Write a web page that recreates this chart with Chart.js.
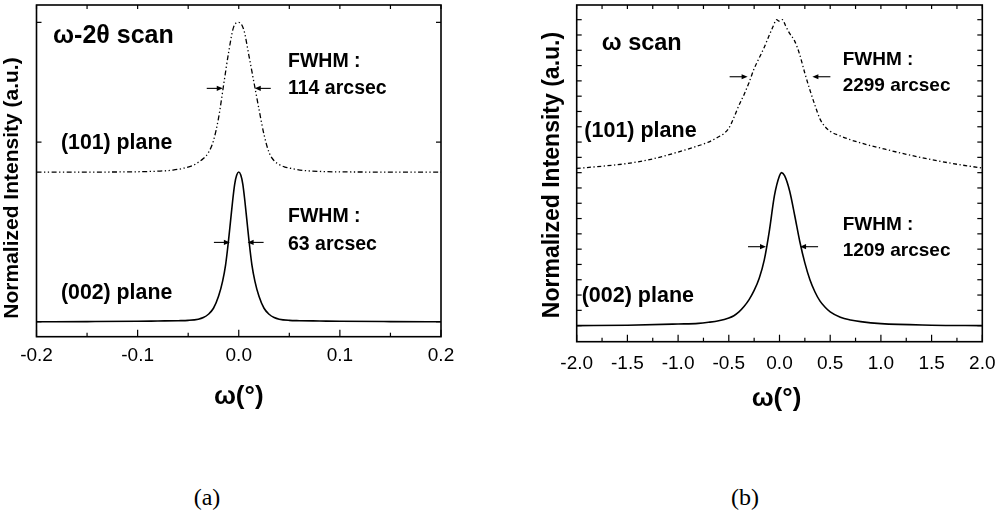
<!DOCTYPE html>
<html>
<head>
<meta charset="utf-8">
<title>XRD rocking curves</title>
<script src="https://cdn.jsdelivr.net/npm/chart.js@4.4.0/dist/chart.umd.min.js"></script>
<style>
  html, body { margin: 0; padding: 0; background: #fff; overflow: hidden; width: 996px; height: 513px; }
  #wrap { position: relative; width: 996px; height: 513px; }
  canvas { position: absolute; }
  .cap { position: absolute; font-family: 'Liberation Serif', 'Times New Roman', serif; font-size: 24px; line-height: 24px; color: #000; transform: translateX(-50%); white-space: nowrap; }
</style>
</head>
<body>
<div id="wrap">
  <canvas id="panelA" width="470" height="420" style="left:0;top:0;width:470px;height:420px"></canvas>
  <canvas id="panelB" width="520" height="420" style="left:498px;top:0;width:520px;height:420px"></canvas>
  <div class="cap" style="left:207px;top:485px">(a)</div>
  <div class="cap" style="left:745px;top:485px">(b)</div>
</div>
<script>
// ---- ω-2θ scan (panel a), ω in degrees, normalized intensity ----
const w2tX002 = [-0.2,-0.15,-0.1,-0.08,-0.06,-0.05,-0.04,-0.035,-0.03,-0.025,-0.02,-0.016,-0.013,-0.01,-0.008,-0.006,-0.004,-0.002,0,0.002,0.004,0.006,0.008,0.01,0.013,0.016,0.02,0.025,0.03,0.035,0.04,0.05,0.06,0.08,0.1,0.15,0.2];
const w2tI002 = [0,0.001,0.003,0.005,0.007,0.009,0.017,0.028,0.05,0.09,0.17,0.27,0.38,0.55,0.68,0.81,0.92,0.98,1.0,0.98,0.92,0.81,0.68,0.55,0.38,0.27,0.17,0.09,0.05,0.028,0.017,0.009,0.007,0.005,0.003,0.001,0];

const w2tX101 = [-0.2,-0.15,-0.1,-0.08,-0.065,-0.055,-0.045,-0.04,-0.035,-0.03,-0.025,-0.02,-0.015,-0.01,-0.005,0,0.005,0.01,0.015,0.02,0.025,0.03,0.035,0.04,0.045,0.055,0.065,0.08,0.1,0.15,0.2];
const w2tI101 = [0,0,0.002,0.006,0.013,0.025,0.045,0.065,0.09,0.13,0.21,0.36,0.58,0.80,0.97,1.0,0.95,0.78,0.60,0.42,0.25,0.13,0.075,0.05,0.035,0.02,0.01,0.004,0.001,0,0];

// ---- ω scan (panel b) ----
const wX002 = [-2.0,-1.5,-1.0,-0.8,-0.7,-0.6,-0.5,-0.45,-0.4,-0.35,-0.3,-0.25,-0.2,-0.15,-0.1,-0.05,0,0.02,0.05,0.1,0.15,0.2,0.25,0.3,0.35,0.4,0.45,0.5,0.6,0.7,0.8,1.0,1.5,2.0];
const wI002 = [0,0.003,0.011,0.015,0.022,0.032,0.05,0.065,0.09,0.125,0.17,0.23,0.31,0.43,0.62,0.85,0.98,1.0,0.98,0.88,0.72,0.55,0.41,0.30,0.22,0.16,0.12,0.09,0.055,0.037,0.026,0.013,0.003,0];

const wX101 = [-2.0,-1.75,-1.5,-1.25,-1.0,-0.85,-0.7,-0.6,-0.55,-0.5,-0.45,-0.4,-0.35,-0.3,-0.25,-0.2,-0.15,-0.1,-0.06,-0.03,0,0.03,0.06,0.1,0.15,0.2,0.25,0.3,0.35,0.4,0.45,0.5,0.6,0.7,0.85,1.0,1.25,1.5,1.75,2.0];
const wI101 = [0.028,0.042,0.06,0.09,0.135,0.165,0.2,0.235,0.255,0.29,0.36,0.44,0.51,0.59,0.68,0.75,0.82,0.9,0.96,1.0,0.99,1.0,0.96,0.91,0.86,0.77,0.65,0.54,0.44,0.35,0.3,0.27,0.24,0.215,0.185,0.16,0.12,0.085,0.055,0.03];

// FWHM values in arcsec: [(101), (002)]
const fwhmA = [114, 63];
const fwhmB = [2299, 1209];

// axis tick values
const xTicksA = [-0.2, -0.1, 0.0, 0.1, 0.2];
const xTicksB = [-2.0, -1.5, -1.0, -0.5, 0.0, 0.5, 1.0, 1.5, 2.0];
const yTicksA = [0, 1.2, 2.0];
const yTicksB = [0,0.1,0.2,0.3,0.4,0.5,0.6,0.7,0.8,0.9,1.0,1.1,1.2,1.3,1.4,1.5,1.6,1.7,1.8,1.9,2.0];

// the (101) curve is stacked one unit above the (002) curve
const STACK = 1;

const SANS = "'Liberation Sans', Arial, Helvetica, sans-serif";

function toPoints(xs, ys, offset) {
  return xs.map((x, i) => ({ x, y: ys[i] + offset }));
}

function arrow(ctx, tx, ty, dir, len) {
  ctx.beginPath();
  ctx.moveTo(tx - dir * len, ty);
  ctx.lineTo(tx - dir * 4, ty);
  ctx.stroke();
  ctx.beginPath();
  ctx.moveTo(tx, ty);
  ctx.lineTo(tx - dir * 6, ty - 2.6);
  ctx.lineTo(tx - dir * 6, ty + 2.6);
  ctx.closePath();
  ctx.fill();
}

// frame, inward tick marks, FWHM arrows and text annotations
const panelDecor = {
  id: 'panelDecor',
  afterDatasetsDraw(chart, _args, o) {
    const { ctx, chartArea: a } = chart;
    const xs = chart.scales.x, ys = chart.scales.y;
    const line = (x1, y1, x2, y2) => { ctx.beginPath(); ctx.moveTo(x1, y1); ctx.lineTo(x2, y2); ctx.stroke(); };
    ctx.save();
    ctx.strokeStyle = '#000';
    ctx.fillStyle = '#000';

    ctx.lineWidth = 1.2;
    const xv = xs.ticks.map(t => t.value);
    xv.forEach((v, i) => {
      const p = xs.getPixelForValue(v);
      line(p, a.bottom, p, a.bottom - o.major);
      line(p, a.top, p, a.top + o.minor);
      if (i < xv.length - 1) {
        const m = xs.getPixelForValue((v + xv[i + 1]) / 2);
        line(m, a.bottom, m, a.bottom - o.minor);
        line(m, a.top, m, a.top + o.minor);
      }
    });
    o.yTicks.forEach(v => {
      const p = ys.getPixelForValue(v);
      line(a.left, p, a.left + o.minor + 1, p);
      line(a.right, p, a.right - o.minor - 1, p);
    });

    ctx.lineWidth = 1.6;
    ctx.strokeRect(a.left, a.top, a.right - a.left, a.bottom - a.top);

    ctx.lineWidth = 1.1;
    o.arrows.forEach(ar => {
      const half = ar.arcsec / 3600 / 2;
      const py = ys.getPixelForValue(ar.level);
      arrow(ctx, xs.getPixelForValue(ar.center - half), py, 1, o.arrowLen);
      arrow(ctx, xs.getPixelForValue(ar.center + half), py, -1, o.arrowLen);
    });

    ctx.textAlign = 'left';
    ctx.textBaseline = 'alphabetic';
    o.notes.forEach(n => {
      ctx.font = `bold ${n.size}px ${SANS}`;
      ctx.fillText(n.text, xs.getPixelForValue(n.x), ys.getPixelForValue(n.y));
    });

    ctx.textAlign = 'center';
    ctx.font = `bold ${o.xTitle.size}px ${SANS}`;
    ctx.fillText(o.xTitle.text, (a.left + a.right) / 2 + o.xTitle.dx, a.bottom + o.xTitle.dy);

    ctx.save();
    ctx.translate(o.yTitle.cx, o.yTitle.cy);
    ctx.rotate(-Math.PI / 2);
    ctx.font = `bold ${o.yTitle.size}px ${SANS}`;
    ctx.textBaseline = 'middle';
    ctx.fillText(o.yTitle.text, 0, 0);
    ctx.restore();

    ctx.restore();
  }
};

function makePanel(id, c) {
  return new Chart(document.getElementById(id), {
    type: 'line',
    data: {
      datasets: [
        { data: toPoints(c.x101, c.i101, STACK), borderColor: '#000', borderWidth: 1.3, borderDash: c.dash,
          pointRadius: 0, fill: false, cubicInterpolationMode: 'monotone' },
        { data: toPoints(c.x002, c.i002, 0), borderColor: '#000', borderWidth: 1.6,
          pointRadius: 0, fill: false, cubicInterpolationMode: 'monotone' }
      ]
    },
    options: {
      responsive: false,
      animation: false,
      events: [],
      layout: { padding: c.padding },
      plugins: { legend: { display: false }, tooltip: { enabled: false }, panelDecor: c.decor },
      scales: {
        x: {
          type: 'linear', min: c.xMin, max: c.xMax,
          grid: { display: false, drawTicks: false },
          border: { display: false },
          afterBuildTicks: s => { s.ticks = c.xTicks.map(v => ({ value: v })); },
          afterFit: s => { s.height = c.xAxisHeight; },
          ticks: {
            color: '#000', padding: c.tickPad, maxRotation: 0, autoSkip: false,
            font: { family: SANS, size: 19 },
            callback: v => (Math.abs(v) < 1e-9 ? 0 : v).toFixed(1)
          }
        },
        y: {
          type: 'linear', min: c.yMin, max: c.yMax,
          grid: { display: false, drawTicks: false },
          border: { display: false },
          ticks: { display: false },
          afterFit: s => { s.width = c.yAxisWidth; }
        }
      }
    },
    plugins: [panelDecor]
  });
}

makePanel('panelA', {
  x002: w2tX002, i002: w2tI002, x101: w2tX101, i101: w2tI101,
  dash: [5, 2.5, 1.3, 2.5, 1.3, 2.5],
  xMin: -0.2, xMax: 0.2, yMin: -0.1, yMax: 2.116,
  xTicks: xTicksA,
  padding: { left: 0, top: 5, right: 29, bottom: 0 },
  yAxisWidth: 36.5, xAxisHeight: 83.3, tickPad: 8,
  decor: {
    major: 7, minor: 4, arrowLen: 16,
    yTicks: yTicksA,
    arrows: [
      { arcsec: fwhmA[0], center: 0, level: 1.559 },
      { arcsec: fwhmA[1], center: 0, level: 0.530 }
    ],
    notes: [
      { text: 'ω-2θ scan', x: -0.1837, y: 1.860, size: 25 },
      { text: 'FWHM :', x: 0.0487, y: 1.703, size: 19.5 },
      { text: fwhmA[0] + ' arcsec', x: 0.0487, y: 1.519, size: 19.5 },
      { text: '(101) plane', x: -0.1758, y: 1.154, size: 21.3 },
      { text: 'FWHM :', x: 0.0487, y: 0.664, size: 19.5 },
      { text: fwhmA[1] + ' arcsec', x: 0.0487, y: 0.479, size: 19.5 },
      { text: '(002) plane', x: -0.1758, y: 0.152, size: 21.3 }
    ],
    xTitle: { text: 'ω(°)', size: 26, dx: 0, dy: 67 },
    yTitle: { text: 'Normalized Intensity (a.u.)', size: 21, cx: 12, cy: 188 }
  }
});

makePanel('panelB', {
  x002: wX002, i002: wI002, x101: wX101, i101: wI101,
  dash: [4, 2.5, 1.3, 2.5],
  xMin: -2, xMax: 2, yMin: -0.105, yMax: 2.096,
  xTicks: xTicksB,
  padding: { left: 0, top: 5, right: 35.7, bottom: 0 },
  yAxisWidth: 78.7, xAxisHeight: 78.3, tickPad: 11,
  decor: {
    major: 7, minor: 4, arrowLen: 18,
    yTicks: yTicksB,
    arrows: [
      { arcsec: fwhmB[0], center: 0.005, level: 1.627 },
      { arcsec: fwhmB[1], center: 0.035, level: 0.516 }
    ],
    notes: [
      { text: 'ω scan', x: -1.753, y: 1.802, size: 23.5 },
      { text: 'FWHM :', x: 0.623, y: 1.704, size: 19 },
      { text: fwhmB[0] + ' arcsec', x: 0.623, y: 1.536, size: 19 },
      { text: '(101) plane', x: -1.925, y: 1.235, size: 21.5 },
      { text: 'FWHM :', x: 0.623, y: 0.625, size: 19 },
      { text: fwhmB[1] + ' arcsec', x: 0.623, y: 0.456, size: 19 },
      { text: '(002) plane', x: -1.951, y: 0.157, size: 21.5 }
    ],
    xTitle: { text: 'ω(°)', size: 26, dx: -3, dy: 64.5 },
    yTitle: { text: 'Normalized Intensity (a.u.)', size: 23, cx: 55, cy: 175 }
  }
});
</script>
</body>
</html>
